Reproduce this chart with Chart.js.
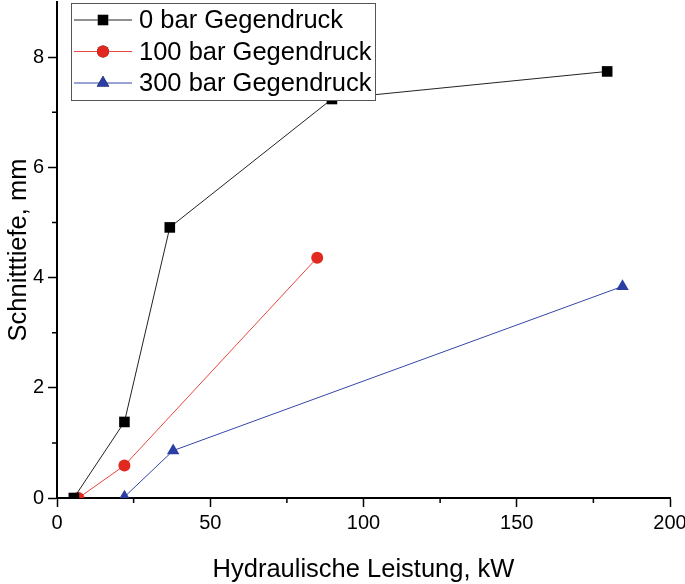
<!DOCTYPE html>
<html>
<head>
<meta charset="utf-8">
<script src="https://cdn.jsdelivr.net/npm/chart.js@4/dist/chart.umd.min.js"></script>
<style>
  html, body { margin: 0; padding: 0; background: #fff; }
  #wrap { width: 685px; height: 584px; }
</style>
</head>
<body>
<div id="wrap"><canvas id="chart"></canvas></div>
<script>
const seriesNames = ['0 bar Gegendruck', '100 bar Gegendruck', '300 bar Gegendruck']
const power0 = [5.5, 22, 36.8, 89.7, 179.5]
const depth0 = [0, 1.38, 4.91, 7.24, 7.74]
const power100 = [7, 22, 84.9]
const depth100 = [0, 0.59, 4.36]
const power300 = [22, 37.9, 184.5]
const depth300 = [0.02, 0.86, 3.84]
const xTicks = [0, 50, 100, 150, 200]
const yTicks = [0, 2, 4, 6, 8]
const xMinor = [25, 75, 125, 175]
const yMinor = [1, 3, 5, 7]

const pts = (xs, ys) => xs.map((x, i) => ({ x, y: ys[i] }))
const font = 'Liberation Sans, Arial, sans-serif'

const minorTicks = {
    id: 'minorTicks',
    afterDraw(chart) {
        const { ctx, scales: { x, y } } = chart
        ctx.save()
        ctx.strokeStyle = '#000'
        ctx.lineWidth = 1.5
        ctx.beginPath()
        xMinor.forEach(v => {
            const px = x.getPixelForValue(v)
            ctx.moveTo(px, y.bottom)
            ctx.lineTo(px, y.bottom + 5)
        })
        yMinor.forEach(v => {
            const py = y.getPixelForValue(v)
            ctx.moveTo(x.left, py)
            ctx.lineTo(x.left - 5, py)
        })
        ctx.stroke()
        ctx.restore()
    }
}

// legend box with line + marker, as in the original
const boxLegend = {
    id: 'boxLegend',
    afterDraw(chart) {
        const { ctx } = chart
        ctx.save()
        ctx.fillStyle = '#fff'
        ctx.fillRect(71, 3, 304, 97)
        ctx.strokeStyle = '#555'
        ctx.lineWidth = 1
        ctx.strokeRect(71.5, 3.5, 304, 97)
        chart.data.datasets.forEach((ds, i) => {
            const cy = 20 + i * 31.5
            ctx.strokeStyle = ds.borderColor
            ctx.lineWidth = 1
            ctx.beginPath()
            ctx.moveTo(74, cy)
            ctx.lineTo(132, cy)
            ctx.stroke()
            Chart.helpers.drawPoint(ctx, {
                pointStyle: ds.pointStyle,
                radius: ds.pointRadius,
                borderWidth: 0,
                rotation: 0
            }, 103, cy)
            ctx.fillStyle = ds.pointBackgroundColor
            ctx.fill()
            ctx.fillStyle = '#000'
            ctx.font = '25.5px ' + font
            ctx.textBaseline = 'middle'
            ctx.fillText(ds.label, 139, cy + 1)
        })
        ctx.restore()
    }
}

new Chart(document.getElementById('chart'), {
    type: 'scatter',
    data: {
        datasets: [
            {
                label: seriesNames[0],
                data: pts(power0, depth0),
                showLine: true,
                borderColor: '#222',
                borderWidth: 1,
                pointStyle: 'rect',
                pointRadius: 7.5,
                pointBackgroundColor: '#000',
                pointBorderWidth: 0,
            },
            {
                label: seriesNames[1],
                data: pts(power100, depth100),
                showLine: true,
                borderColor: '#e8463e',
                borderWidth: 1,
                pointStyle: 'circle',
                pointRadius: 6,
                pointBackgroundColor: '#e2291f',
                pointBorderWidth: 0,
            },
            {
                label: seriesNames[2],
                data: pts(power300, depth300),
                showLine: true,
                borderColor: '#3347a8',
                borderWidth: 1,
                pointStyle: 'triangle',
                pointRadius: 7.2,
                pointBackgroundColor: '#2b3ea3',
                pointBorderWidth: 0,
            }
        ]
    },
    options: {
        responsive: true,
        maintainAspectRatio: false,
        animation: false,
        layout: { autoPadding: false, padding: { top: 2, right: 15, left: 0, bottom: 0 } },
        plugins: {
            legend: { display: false },
            tooltip: { enabled: false }
        },
        scales: {
            x: {
                type: 'linear',
                min: 0,
                max: 200,
                afterBuildTicks: (s) => { s.ticks = xTicks.map(v => ({ value: v })) },
                afterFit: (s) => { s.height = 86; s.paddingLeft = 0; s.paddingRight = 0 },
                grid: { drawOnChartArea: false, tickLength: 9, tickWidth: 1.5, tickColor: '#000' },
                border: { color: '#000', width: 2 },
                ticks: { color: '#000', font: { family: font, size: 20 }, padding: 4 },
                title: {
                    display: true,
                    text: 'Hydraulische Leistung, kW',
                    color: '#000',
                    font: { family: font, size: 25.5, lineHeight: 1.1 },
                    padding: { top: 10, bottom: 0 }
                }
            },
            y: {
                type: 'linear',
                min: 0,
                max: 9,
                afterBuildTicks: (s) => { s.ticks = yTicks.map(v => ({ value: v })) },
                afterFit: (s) => { s.width = 57; s.paddingTop = 0; s.paddingBottom = 0 },
                grid: { drawOnChartArea: false, tickLength: 9, tickWidth: 1.5, tickColor: '#000' },
                border: { color: '#000', width: 2 },
                ticks: { color: '#000', font: { family: font, size: 20 }, padding: 4 },
                title: {
                    display: true,
                    text: 'Schnitttiefe, mm',
                    color: '#000',
                    font: { family: font, size: 25.5 },
                    padding: { bottom: 0 }
                }
            }
        }
    },
    plugins: [minorTicks, boxLegend]
})
</script>
</body>
</html>
